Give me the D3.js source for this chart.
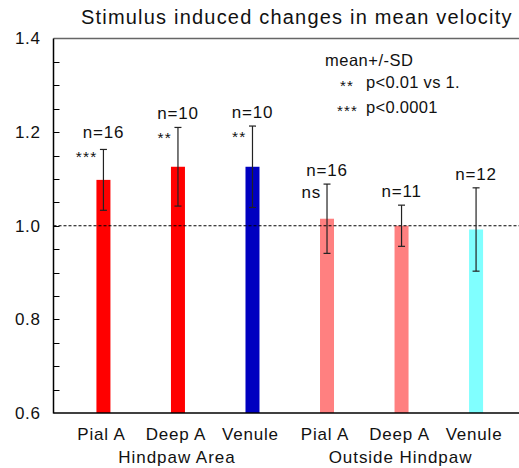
<!DOCTYPE html>
<html><head><meta charset="utf-8">
<script src="https://cdn.jsdelivr.net/npm/d3@7"></script>
<style>body{margin:0;background:#fff}svg{display:block}text{font-family:"Liberation Sans",Arial,sans-serif;fill:#111}</style>
</head><body>
<script>
const categories = ["Pial A","Deep A","Venule","Pial A","Deep A","Venule"];
const groups = ["Hindpaw Area","Outside Hindpaw"];
const means = [1.098, 1.126, 1.126, 1.015, 1.000, 0.992];
const sds   = [0.065, 0.084, 0.087, 0.074, 0.044, 0.089];
const nLabels = ["n=16","n=10","n=10","n=16","n=11","n=12"];
const sigLabels = ["***","**","**","ns","",""];
const colors = ["#ff0000","#ff0000","#0000c0","#ff8080","#ff8080","#80ffff"];
const yTicks = [0.6,0.8,1.0,1.2,1.4];
const legendTitle = "mean+/-SD";
const legendStars = ["**","***"];
const legendTexts = ["p<0.01 vs 1.","p<0.0001"];

const W=519,H=468;
const svg=d3.select("body").append("svg").attr("width",W).attr("height",H);
const L=53.5, R=519, T=38.5, B=413;
const idx=d3.range(categories.length);
const x=d3.scalePoint().domain(idx).range([L,526]).padding(0.67);
const y=d3.scaleLinear().domain([0.6,1.4]).range([B,T]);

// title
svg.append("text").attr("x",81).attr("y",24)
  .style("font-size","20px").style("letter-spacing","1.2px").text("Stimulus induced changes in mean velocity");

// bars
svg.selectAll("rect.bar").data(idx).join("rect")
  .attr("x",i=>x(i)-7).attr("width",14)
  .attr("y",i=>y(means[i])).attr("height",i=>B-y(means[i]))
  .attr("fill",i=>colors[i]);

// dashed reference line
svg.append("line").attr("x1",L).attr("x2",R).attr("y1",y(1)).attr("y2",y(1))
  .attr("stroke","#000").attr("stroke-width",1).attr("stroke-dasharray","3,2");

// error bars
const eb=svg.selectAll("g.eb").data(idx).join("g").attr("stroke","#222").attr("stroke-width",1.2);
eb.append("line").attr("x1",i=>x(i)).attr("x2",i=>x(i)).attr("y1",i=>y(means[i]+sds[i])).attr("y2",i=>y(means[i]-sds[i]));
eb.append("line").attr("x1",i=>x(i)-3.5).attr("x2",i=>x(i)+3.5).attr("y1",i=>y(means[i]+sds[i])).attr("y2",i=>y(means[i]+sds[i]));
eb.append("line").attr("x1",i=>x(i)-3.5).attr("x2",i=>x(i)+3.5).attr("y1",i=>y(means[i]-sds[i])).attr("y2",i=>y(means[i]-sds[i]));

// axes
const yAxis=d3.axisLeft(y).tickValues(yTicks).tickFormat(d3.format(".1f")).tickSize(0).tickPadding(13);
const ga=svg.append("g").attr("transform",`translate(${L},0)`).call(yAxis);
ga.select(".domain").remove();
ga.selectAll("text").style("font-size","17px").style("letter-spacing","0.6px").attr("fill","#111");
const minor=d3.range(0.65,1.4,0.05);
svg.selectAll("line.mt").data(minor).join("line")
  .attr("x1",L).attr("x2",L+6).attr("y1",d=>Math.round(y(d))+0.5).attr("y2",d=>Math.round(y(d))+0.5)
  .attr("stroke","#000").attr("stroke-width",1);
svg.append("line").attr("x1",L).attr("x2",R).attr("y1",T).attr("y2",T).attr("stroke","#666").attr("stroke-width",1.5);
svg.append("line").attr("x1",L).attr("x2",L).attr("y1",T).attr("y2",B+0.5).attr("stroke","#000").attr("stroke-width",1.5);
svg.append("line").attr("x1",L).attr("x2",R).attr("y1",B).attr("y2",B).attr("stroke","#000").attr("stroke-width",1.5);

// x labels
svg.selectAll("text.cat").data(idx).join("text")
  .attr("x",i=>x(i)-2).attr("y",440).attr("text-anchor","middle")
  .style("font-size","17px").style("letter-spacing","0.8px").text(i=>categories[i]);
svg.selectAll("text.grp").data(groups).join("text")
  .attr("x",(d,g)=>x(g*3+1)-1).attr("y",463).attr("text-anchor","middle")
  .style("font-size","17px").style("letter-spacing","0.95px").text(d=>d);

// n labels
svg.selectAll("text.n").data(idx).join("text")
  .attr("x",i=>x(i)).attr("y",i=>y(means[i]+sds[i])-(i===0?11:8)).attr("text-anchor","middle")
  .style("font-size","17px").style("letter-spacing","0.8px").text(i=>nLabels[i]);

// significance labels
svg.selectAll("text.sig").data(idx.filter(i=>sigLabels[i])).join("text")
  .attr("x",i=>x(i)-6)
  .attr("y",i=>sigLabels[i]==="ns"? y(means[i]+sds[i])+14 : y(means[i]+sds[i])+(i===0?13:16))
  .attr("text-anchor","end")
  .style("font-size",i=>sigLabels[i]==="ns"?"17px":"15.5px")
  .style("letter-spacing",i=>sigLabels[i]==="ns"?"0.8px":"1.2px")
  .text(i=>sigLabels[i]);

// legend
svg.append("text").attr("x",325).attr("y",66).style("font-size","16.5px").style("letter-spacing","0.5px").text(legendTitle);
const starX=[340,337];
legendStars.forEach((s,k)=>{
  const yy=88+k*25;
  svg.append("text").attr("x",starX[k]).attr("y",yy+3).style("font-size","15px").style("letter-spacing","1.2px").text(s);
  svg.append("text").attr("x",366).attr("y",yy).style("font-size","16.5px").style("letter-spacing","0.3px").text(legendTexts[k]);
});
</script>
</body></html>
